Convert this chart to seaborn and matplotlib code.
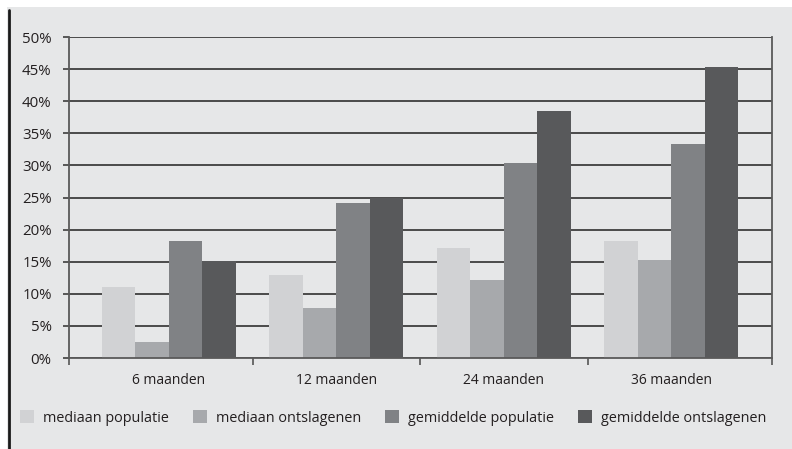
import pandas as pd
import numpy as np
import seaborn as sns
import matplotlib.pyplot as plt
from matplotlib.patches import Rectangle
from matplotlib.lines import Line2D

sns.set_style("white")
plt.rcParams['font.family'] = ['Open Sans', 'DejaVu Sans']

periodes = ["6 maanden", "12 maanden", "24 maanden", "36 maanden"]
reeksen = ["mediaan populatie", "mediaan ontslagenen", "gemiddelde populatie", "gemiddelde ontslagenen"]
mediaan_populatie = [11.0, 13.0, 17.1, 18.2]
mediaan_ontslagenen = [2.5, 7.8, 12.1, 15.3]
gemiddelde_populatie = [18.2, 24.2, 30.3, 33.3]
gemiddelde_ontslagenen = [15.1, 25.0, 38.5, 45.3]
kleuren = ["#d1d2d4", "#a7a9ac", "#808285", "#58595b"]
yticks = list(range(0, 55, 5))

df = pd.DataFrame({
    "periode": periodes * 4,
    "reeks": np.repeat(reeksen, 4),
    "waarde": mediaan_populatie + mediaan_ontslagenen + gemiddelde_populatie + gemiddelde_ontslagenen,
})

W, H = 792, 449
fig = plt.figure(figsize=(W / 100, H / 100), dpi=100, facecolor="white")
# grey panel + black left border
fig.patches.append(Rectangle((7 / W, 0), 1 - 7 / W, 1 - 7 / H, transform=fig.transFigure,
                             facecolor="#e6e7e8", edgecolor="none", zorder=-2))
fig.lines.append(Line2D([8.5 / W, 8.5 / W], [0, 1 - 10 / H], transform=fig.transFigure,
                        color="#1a1a1a", linewidth=2, zorder=-1))

ax = fig.add_axes([69 / W, (H - 358) / H, (772 - 69) / W, (358 - 37) / H])
ax.set_facecolor("#e6e7e8")
sns.barplot(data=df, x="periode", y="waarde", hue="reeks", palette=kleuren,
            width=0.8, saturation=1, linewidth=0, ax=ax, legend=False)

ax.set_xlim(-0.597, 3.6)
ax.set_ylim(0, 50)
ax.set_yticks(yticks)
ax.set_yticklabels([f"{t}%" for t in yticks], fontsize=10.8, color="#231f20")
ax.yaxis.grid(True, color="#3e3e3e", linewidth=1.3)
ax.set_axisbelow(True)

ax.set_xticks([-0.597, 0.5, 1.5, 2.5, 3.6])
ax.set_xticklabels([])
ax.set_xticks(range(4), minor=True)
ax.set_xticklabels(periodes, minor=True, fontsize=10, color="#231f20")
ax.tick_params(axis="x", which="major", length=5, width=1.2, color="#555555", direction="out", bottom=True)
ax.tick_params(axis="x", which="minor", length=0, pad=11)
ax.tick_params(axis="y", length=4.5, width=1.2, color="#3e3e3e", left=True, pad=8)
ax.set_xlabel("")
ax.set_ylabel("")

for side in ["left", "bottom", "right"]:
    ax.spines[side].set_color("#5a5a5a")
    ax.spines[side].set_linewidth(1.3)
ax.spines["top"].set_visible(False)

handles = [Rectangle((0, 0), 1, 1, facecolor=c, edgecolor="none") for c in kleuren]
fig.legend(handles, reeksen, loc="center", bbox_to_anchor=(393 / W, 1 - 418 / H), ncol=4,
           frameon=False, fontsize=10.4, handlelength=1.0, handleheight=1.0,
           handletextpad=0.6, columnspacing=1.65, labelcolor="#231f20")

fig.savefig("out.png", dpi=100, facecolor="white")
